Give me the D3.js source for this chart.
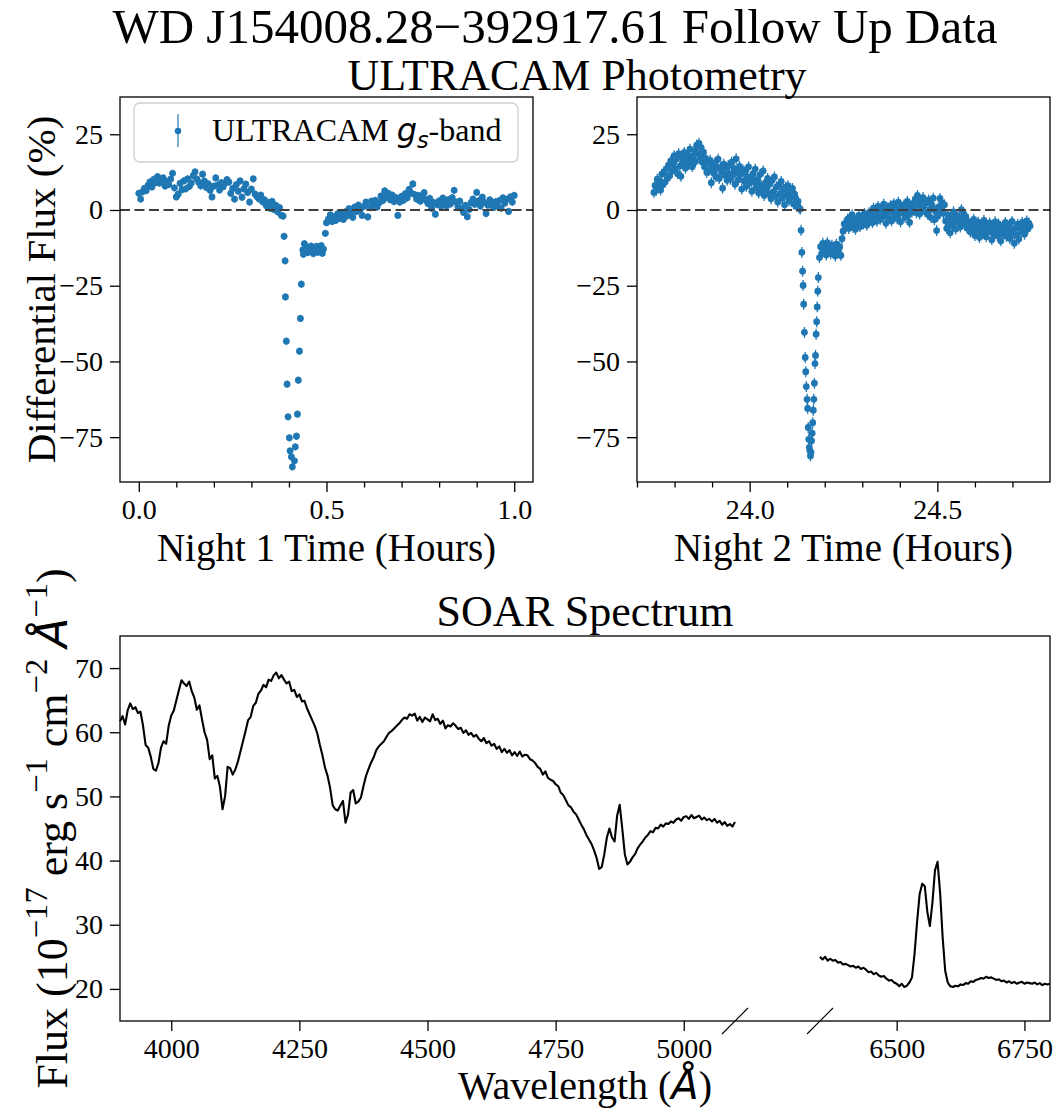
<!DOCTYPE html>
<html>
<head>
<meta charset="utf-8">
<script src="https://cdn.jsdelivr.net/npm/d3@7"></script>
<style>
  body { margin: 0; background: #fff; }
</style>
</head>
<body>
<div id="fig"></div>
<script>
// ULTRACAM g_s light curve, night 1: [time (h), differential flux (%)]
const night1 = [
  [0.000,5.5],[0.005,3.6],[0.010,6.0],[0.015,7.1],[0.020,6.4],[0.025,8.2],[0.030,9.3],[0.035,7.6],[0.040,10.1],[0.045,9.0],
  [0.050,11.0],[0.055,8.9],[0.060,9.8],[0.065,10.6],[0.070,7.9],[0.075,9.4],[0.080,8.4],[0.085,10.2],[0.090,12.1],[0.095,7.3],
  [0.100,4.3],[0.105,5.2],[0.110,8.8],[0.115,6.7],[0.120,9.6],[0.125,7.0],[0.130,10.3],[0.135,7.8],[0.140,8.9],[0.145,11.3],
  [0.150,12.6],[0.155,10.2],[0.160,9.1],[0.165,8.0],[0.170,11.8],[0.175,9.5],[0.180,7.4],[0.185,8.6],[0.190,6.5],[0.195,4.3],
  [0.200,7.9],[0.205,10.6],[0.210,8.2],[0.215,6.6],[0.220,9.0],[0.225,7.7],[0.230,8.9],[0.235,10.0],[0.240,9.2],[0.245,5.5],
  [0.250,7.1],[0.255,3.6],[0.260,8.4],[0.265,6.2],[0.270,9.6],[0.275,4.2],[0.280,7.0],[0.285,8.5],[0.290,5.8],[0.295,2.6],
  [0.300,6.9],[0.305,10.3],[0.310,5.2],[0.315,4.4],[0.320,3.7],[0.325,4.9],[0.330,2.7],[0.335,3.3],[0.340,1.4],[0.345,2.4],
  [0.350,0.6],[0.355,2.8],[0.360,0.2],[0.365,1.5],[0.370,-0.6],[0.375,0.8],[0.380,-1.8],
  [0.3845,-2.0],[0.3870,-8.7],[0.3897,-16.8],[0.3906,-28.7],[0.3930,-43.3],[0.3950,-57.5],[0.3977,-68.3],[0.4010,-75.2],
  [0.4030,-79.5],[0.4065,-81.5],[0.4090,-84.8],[0.4146,-82.8],[0.4170,-78.2],[0.4200,-74.7],[0.4226,-67.4],[0.4250,-56.2],
  [0.4280,-46.6],[0.4305,-35.8],[0.4330,-24.5],[0.4370,-13.2],[0.4385,-14.6],[0.4410,-11.1],
  [0.444,-13.5],[0.447,-12.2],[0.450,-14.1],[0.453,-12.8],[0.456,-13.7],[0.459,-11.9],[0.462,-13.2],[0.465,-14.4],
  [0.468,-12.5],[0.471,-13.0],[0.474,-12.0],[0.477,-14.0],[0.480,-12.7],[0.483,-13.6],[0.486,-11.8],[0.489,-14.3],
  [0.492,-12.9],[0.497,-7.7],[0.500,-4.2],
  [0.505,-3.0],[0.510,-1.6],[0.515,-3.8],[0.520,-2.2],[0.525,-3.4],[0.530,-1.2],[0.535,-2.7],[0.540,-1.0],[0.545,-3.1],[0.550,-0.6],
  [0.555,-1.9],[0.560,0.4],[0.565,-1.1],[0.570,-2.4],[0.575,0.9],[0.580,-0.5],[0.585,1.6],[0.590,0.2],[0.595,-1.8],[0.600,1.2],
  [0.605,2.6],[0.610,-2.3],[0.615,0.8],[0.620,2.9],[0.625,1.5],[0.630,3.2],[0.635,1.0],[0.640,2.4],[0.645,4.6],[0.650,3.1],
  [0.655,6.3],[0.660,4.2],[0.665,5.5],[0.670,3.4],[0.675,4.9],[0.680,2.8],[0.685,4.1],[0.690,-1.8],[0.695,2.6],[0.700,4.5],
  [0.705,3.2],[0.710,5.4],[0.715,4.0],[0.720,6.8],[0.725,5.6],[0.730,8.6],[0.735,5.1],[0.740,3.6],[0.745,4.8],[0.750,2.9],
  [0.755,4.4],[0.760,5.7],[0.765,3.3],[0.770,2.1],[0.775,3.8],[0.780,0.6],[0.785,2.5],[0.790,-1.4],[0.795,1.8],[0.800,3.0],
  [0.805,1.2],[0.810,3.9],[0.815,2.2],[0.820,1.4],[0.825,3.4],[0.830,2.0],[0.835,4.1],[0.840,6.5],[0.845,2.6],[0.850,1.1],
  [0.855,2.9],[0.860,0.4],[0.865,-0.8],[0.870,1.5],[0.875,-2.2],[0.880,0.2],[0.885,2.4],[0.890,3.6],[0.895,1.9],[0.900,5.8],
  [0.905,3.0],[0.910,1.3],[0.915,4.2],[0.920,2.5],[0.925,-1.2],[0.930,1.6],[0.935,3.3],[0.940,2.0],[0.945,0.8],[0.950,2.7],
  [0.955,1.4],[0.960,3.1],[0.965,0.6],[0.970,4.0],[0.975,2.3],[0.980,3.5],[0.985,-0.5],[0.990,4.3],[0.995,2.6],[1.000,4.8]
];

// night 2: [time (h), differential flux (%)]
const night2 = [
  [23.745,5.8],[23.748,8.1],[23.751,6.4],[23.754,10.2],[23.757,7.3],[23.760,9.5],[23.763,6.6],[23.766,11.8],[23.769,8.4],[23.772,12.6],
  [23.775,9.2],[23.778,13.5],[23.781,10.6],[23.784,14.8],[23.787,11.3],[23.790,16.2],[23.793,12.9],[23.796,15.4],[23.799,17.9],[23.802,13.6],
  [23.805,16.8],[23.808,12.0],[23.811,18.6],[23.814,14.5],[23.817,11.1],[23.820,17.3],[23.823,15.6],[23.826,19.0],[23.829,13.8],[23.832,16.4],
  [23.835,18.2],[23.838,15.1],[23.841,20.1],[23.844,16.9],[23.847,14.3],[23.850,17.8],[23.853,19.6],[23.856,16.0],[23.859,21.4],[23.862,18.7],
  [23.865,22.0],[23.868,17.5],[23.871,20.6],[23.874,15.8],[23.877,19.1],[23.880,14.2],[23.883,17.0],[23.886,12.4],[23.889,15.9],[23.892,13.1],
  [23.895,16.4],[23.898,9.0],[23.901,14.7],[23.904,12.2],[23.907,15.5],[23.910,11.0],[23.913,13.8],[23.916,16.8],[23.919,10.4],[23.922,14.1],
  [23.925,12.6],[23.928,7.2],[23.931,15.1],[23.934,11.5],[23.937,13.9],[23.940,9.8],[23.943,14.6],[23.946,12.0],[23.949,10.2],[23.952,15.8],
  [23.955,11.4],[23.958,13.7],[23.961,8.5],[23.964,16.9],[23.967,12.3],[23.970,10.0],[23.973,14.4],[23.976,11.8],[23.979,6.9],[23.982,13.2],
  [23.985,9.6],[23.988,12.8],[23.991,7.8],[23.994,11.0],[23.997,14.2],[24.000,8.9],[24.003,10.7],[24.006,6.2],[24.009,12.0],[24.012,9.3],
  [24.015,13.5],[24.018,7.4],[24.021,10.1],[24.024,5.6],[24.027,11.6],[24.030,8.3],[24.033,6.7],[24.036,12.9],[24.039,4.8],[24.042,9.0],
  [24.045,7.1],[24.048,10.4],[24.051,5.3],[24.054,8.6],[24.057,3.7],[24.060,9.8],[24.063,6.0],[24.066,10.9],[24.069,4.5],[24.072,7.7],
  [24.075,2.6],[24.078,8.2],[24.081,5.4],[24.084,9.4],[24.087,3.9],[24.090,6.8],[24.093,1.7],[24.096,7.5],[24.099,4.9],[24.102,8.0],
  [24.105,3.1],[24.108,6.3],[24.111,4.4],[24.114,7.1],[24.117,2.0],[24.120,5.2],[24.123,3.6],[24.126,1.1],[24.129,2.8],[24.132,0.6],
  [24.135,0.3],
  [24.137,-6.7],[24.139,-14.0],[24.141,-20.2],[24.1425,-24.9],[24.144,-31.1],[24.146,-40.4],[24.148,-48.7],[24.1495,-53.4],
  [24.151,-58.3],[24.153,-62.5],[24.1545,-65.5],[24.156,-71.8],[24.1575,-75.7],[24.159,-78.4],[24.1605,-79.5],[24.162,-81.2],
  [24.1635,-80.0],[24.165,-76.2],[24.1665,-73.7],[24.168,-70.2],[24.1695,-66.1],[24.171,-62.5],[24.1725,-57.2],[24.174,-50.7],
  [24.1755,-48.0],[24.177,-41.0],[24.1785,-36.9],[24.180,-32.0],[24.1815,-26.8],[24.183,-22.3],
  [24.186,-15.7],[24.189,-12.1],[24.192,-14.3],[24.195,-11.0],[24.198,-13.6],[24.201,-12.4],[24.204,-14.9],[24.207,-10.8],[24.210,-13.1],[24.213,-12.0],
  [24.216,-14.5],[24.219,-11.6],[24.222,-13.8],[24.225,-12.7],[24.228,-15.2],[24.231,-11.3],[24.234,-13.4],[24.237,-14.1],[24.240,-12.2],[24.243,-15.0],
  [24.246,-9.5],[24.249,-7.0],[24.252,-4.6],[24.255,-6.0],
  [24.258,-5.2],[24.261,-3.0],[24.264,-6.1],[24.267,-2.4],[24.270,-4.8],[24.273,-1.6],[24.276,-5.7],[24.279,-3.5],[24.282,-6.4],[24.285,-2.9],
  [24.288,-4.3],[24.291,-1.8],[24.294,-5.5],[24.297,-3.2],[24.300,-2.0],[24.303,-4.6],[24.306,-1.2],[24.309,-3.8],[24.312,-5.0],[24.315,-2.6],
  [24.318,-0.9],[24.321,-3.4],[24.324,-1.6],[24.327,-4.2],[24.330,0.6],[24.333,-2.8],[24.336,-0.4],[24.339,-3.7],[24.342,1.2],[24.345,-1.9],
  [24.348,-3.1],[24.351,0.2],[24.354,-2.2],[24.357,1.9],[24.360,-1.0],[24.363,-4.4],[24.366,0.8],[24.369,-2.5],[24.372,-0.2],[24.375,1.4],
  [24.378,-3.6],[24.381,-0.7],[24.384,2.1],[24.387,-1.8],[24.390,0.4],[24.393,-2.9],[24.396,2.6],[24.399,-1.1],[24.402,-3.9],[24.405,0.9],
  [24.408,-0.5],[24.411,1.7],[24.414,-2.4],[24.417,0.1],[24.420,2.8],[24.423,-1.5],[24.426,-4.1],[24.429,1.0],[24.432,-0.8],[24.435,2.2],
  [24.438,0.3],[24.441,3.6],[24.444,-0.9],[24.447,4.8],[24.450,1.6],[24.453,-1.3],[24.456,2.9],[24.459,0.7],[24.462,4.1],[24.465,1.9],
  [24.468,-0.6],[24.471,2.4],[24.474,-1.4],[24.477,3.3],[24.480,0.2],[24.483,-2.5],[24.486,1.5],[24.489,3.9],[24.492,-3.2],[24.495,-0.4],
  [24.498,-6.8],[24.501,-2.1],[24.504,1.0],[24.507,3.8],[24.510,-0.3],[24.513,2.3],[24.516,-1.1],[24.519,1.7],[24.522,-3.6],[24.525,-6.1],
  [24.528,-1.6],[24.531,-4.4],[24.534,-7.5],[24.537,-2.8],[24.540,-5.2],[24.543,-0.6],[24.546,-3.7],[24.549,-6.3],[24.552,-1.9],[24.555,-4.0],
  [24.558,-2.5],[24.561,-5.6],[24.564,0.1],[24.567,-3.3],[24.570,-1.4],[24.573,-4.7],[24.576,-2.2],[24.579,-6.0],[24.582,-3.8],[24.585,-5.1],
  [24.588,-7.3],[24.591,-4.2],[24.594,-6.6],[24.597,-3.1],[24.600,-8.4],[24.603,-5.5],[24.606,-7.0],[24.609,-4.0],[24.612,-9.1],[24.615,-6.2],
  [24.618,-4.8],[24.621,-7.6],[24.624,-3.4],[24.627,-6.0],[24.630,-8.8],[24.633,-5.2],[24.636,-7.1],[24.639,-4.3],[24.642,-6.7],[24.645,-9.8],
  [24.648,-5.6],[24.651,-7.9],[24.654,-3.9],[24.657,-6.5],[24.660,-8.5],[24.663,-4.6],[24.666,-7.3],[24.669,-10.2],[24.672,-5.9],[24.675,-8.0],
  [24.678,-6.3],[24.681,-4.1],[24.684,-8.7],[24.687,-7.0],[24.690,-5.3],[24.693,-9.4],[24.696,-6.6],[24.699,-3.8],[24.702,-7.7],[24.705,-11.0],
  [24.708,-6.0],[24.711,-8.3],[24.714,-4.7],[24.717,-9.6],[24.720,-5.4],[24.723,-7.2],[24.726,-4.1],[24.729,-6.8],[24.732,-8.0],[24.735,-5.0],
  [24.738,-3.6],[24.741,-6.2],[24.744,-4.4],[24.747,-5.3]
];

const night1Err = 1.2;
const night2Err = 1.8;

const n1Major = [0.0, 0.5, 1.0];
const n1Minor = [0.1, 0.2, 0.3, 0.4, 0.6, 0.7, 0.8, 0.9];
const n2Major = [24.0, 24.5];
const n2Minor = [23.7, 23.8, 23.9, 24.1, 24.2, 24.3, 24.4, 24.6, 24.7];
const fluxTicks = [-75, -50, -25, 0, 25];

// SOAR spectrum: [wavelength (A), flux (1e-17 erg/s/cm2/A)]
const specBlue = [
  [3900,61.7],[3905,62.5],[3910,61.2],[3915,63.4],[3920,64.5],[3925,63.6],[3930,63.9],[3935,63.0],[3940,63.2],[3945,61.0],
  [3950,58.0],[3955,57.6],[3960,56.2],[3965,54.3],[3970,54.0],[3975,55.2],[3980,57.6],[3985,58.6],[3990,58.2],[3995,61.0],
  [4000,62.6],[4005,63.4],[4010,65.0],[4015,66.6],[4020,68.1],[4025,67.6],[4030,67.2],[4035,67.9],[4040,66.4],[4045,65.4],
  [4050,63.5],[4055,64.2],[4060,62.0],[4065,60.0],[4070,58.8],[4075,55.8],[4080,56.4],[4085,52.8],[4090,53.2],[4095,51.5],
  [4100,48.0],[4105,50.0],[4110,54.6],[4115,54.4],[4120,53.4],[4125,54.2],[4130,55.4],[4135,57.0],[4140,58.6],[4145,60.2],
  [4150,61.9],[4155,62.4],[4160,64.1],[4165,64.6],[4170,66.0],[4175,66.5],[4180,67.4],[4185,67.0],[4190,68.2],[4195,68.0],
  [4200,68.9],[4205,69.3],[4210,68.4],[4215,68.9],[4220,68.2],[4225,67.6],[4230,67.9],[4235,66.4],[4240,66.6],[4245,65.5],
  [4250,65.9],[4255,64.8],[4260,64.9],[4265,63.7],[4270,62.8],[4275,61.9],[4280,61.0],[4285,59.8],[4290,58.0],[4295,56.4],
  [4300,54.5],[4305,53.2],[4310,51.3],[4315,48.6],[4320,48.0],[4325,47.8],[4330,48.6],[4335,49.3],[4340,45.9],[4345,47.2],
  [4350,50.6],[4355,51.0],[4360,48.9],[4365,49.2],[4370,49.8],[4375,51.6],[4380,53.2],[4385,54.3],[4390,55.3],[4395,56.1],
  [4400,57.2],[4405,57.8],[4410,58.2],[4415,58.6],[4420,59.3],[4425,59.9],[4430,60.2],[4435,60.6],[4440,61.0],[4445,61.4],
  [4450,61.9],[4455,62.3],[4460,62.1],[4465,62.8],[4470,62.6],[4475,62.9],[4480,61.8],[4485,62.4],[4490,61.6],[4495,62.3],
  [4500,62.0],[4505,61.7],[4510,62.8],[4515,61.9],[4520,62.1],[4525,61.3],[4530,61.8],[4535,60.6],[4540,61.1],[4545,60.9],
  [4550,61.4],[4555,61.0],[4560,60.5],[4565,60.7],[4570,59.9],[4575,60.3],[4580,59.6],[4585,59.9],[4590,59.3],[4595,59.6],
  [4600,59.0],[4605,58.6],[4610,59.1],[4615,58.3],[4620,58.6],[4625,57.9],[4630,58.2],[4635,57.4],[4640,57.8],[4645,56.9],
  [4650,57.4],[4655,56.8],[4660,57.2],[4665,56.4],[4670,56.9],[4675,56.3],[4680,57.0],[4685,56.2],[4690,56.5],[4695,56.4],
  [4700,55.8],[4705,55.6],[4710,55.2],[4715,54.6],[4720,54.3],[4725,53.4],[4730,53.9],[4735,52.9],[4740,52.6],[4745,52.4],
  [4750,51.9],[4755,51.6],[4760,50.6],[4765,50.2],[4770,49.4],[4775,48.6],[4780,48.3],[4785,47.6],[4790,47.2],[4795,46.4],
  [4800,45.6],[4805,44.9],[4810,44.0],[4815,43.3],[4820,42.6],[4825,41.6],[4830,40.4],[4835,38.7],[4840,39.0],[4845,41.0],
  [4850,43.6],[4855,45.0],[4860,43.6],[4865,43.0],[4870,47.0],[4875,48.7],[4880,45.0],[4885,41.0],[4890,39.4],[4895,39.8],
  [4900,40.5],[4905,41.0],[4910,41.9],[4915,42.5],[4920,43.0],[4925,43.6],[4930,44.0],[4935,44.6],[4940,44.4],[4945,45.1],
  [4950,45.0],[4955,45.6],[4960,45.3],[4965,45.8],[4970,45.7],[4975,46.1],[4980,45.9],[4985,46.4],[4990,46.6],[4995,46.2],
  [5000,46.8],[5005,46.9],[5010,46.5],[5015,47.1],[5020,46.6],[5025,46.8],[5030,47.0],[5035,46.4],[5040,46.7],[5045,46.3],
  [5050,46.5],[5055,46.1],[5060,46.5],[5065,45.9],[5070,46.2],[5075,45.6],[5080,46.0],[5085,45.4],[5090,45.7],[5095,45.3],
  [5100,46.0]
];
const specRed = [
  [6350,25.0],[6355,24.6],[6360,25.0],[6365,24.4],[6370,24.7],[6375,24.4],[6380,24.5],[6385,24.1],[6390,24.2],[6395,23.8],
  [6400,23.9],[6405,23.7],[6410,23.5],[6415,23.6],[6420,23.3],[6425,23.5],[6430,23.1],[6435,23.3],[6440,23.0],[6445,22.6],
  [6450,22.7],[6455,22.3],[6460,22.5],[6465,22.1],[6470,21.9],[6475,22.0],[6480,21.6],[6485,21.3],[6490,21.4],[6495,21.0],
  [6500,20.8],[6505,20.4],[6510,20.8],[6515,20.3],[6520,20.5],[6525,21.0],[6530,21.8],[6535,25.5],[6540,30.5],[6545,34.8],
  [6550,36.4],[6555,36.0],[6560,32.0],[6565,29.8],[6570,33.5],[6575,38.5],[6580,39.8],[6585,35.0],[6590,28.0],[6595,22.8],
  [6600,21.0],[6605,20.4],[6610,20.3],[6615,20.5],[6620,20.4],[6625,20.7],[6630,20.6],[6635,20.9],[6640,20.8],[6645,21.2],
  [6650,21.1],[6655,21.4],[6660,21.5],[6665,21.7],[6670,21.6],[6675,21.9],[6680,21.7],[6685,21.8],[6690,21.6],[6695,21.4],
  [6700,21.5],[6705,21.2],[6710,21.3],[6715,21.0],[6720,21.2],[6725,20.9],[6730,21.1],[6735,20.8],[6740,21.0],[6745,21.1],
  [6750,20.8],[6755,21.0],[6760,20.9],[6765,20.8],[6770,21.0],[6775,20.7],[6780,20.9],[6785,20.6],[6790,20.8],[6795,20.7],
  [6800,20.8]
];
const waveTicks = [4000, 4250, 4500, 4750, 5000, 6500, 6750];
const specTicks = [20, 30, 40, 50, 60, 70];
const waveBreak = [5100, 6350];

const W = 1064, H = 1117;
const serif = '"Liberation Serif", "Times New Roman", Times, serif';
const mathFont = '"DejaVu Sans", sans-serif';
const ptColor = '#1f77b4';

const svg = d3.select('#fig').append('svg')
  .attr('width', W).attr('height', H)
  .style('background', '#fff');

function styleAxis(a) {
  a.select('.domain').remove();
  a.selectAll('.tick line').attr('stroke', '#000').attr('stroke-width', 1.3);
  a.selectAll('.tick text')
    .attr('font-family', serif)
    .attr('font-size', 28)
    .attr('fill', '#000');
}

// text made of pieces, some raised/lowered or in math italic
function richText(sel, parts, size, supScale) {
  supScale = supScale || 0.7;
  const t = sel.append('text')
    .attr('font-family', serif)
    .attr('font-size', size)
    .attr('fill', '#000');
  let shift = 0;
  parts.forEach(p => {
    const span = t.append('tspan').text(p.s);
    let want = 0;
    if (p.sup) want = -size * 0.45;
    if (p.sub) want = size * 0.22;
    if (want !== shift) { span.attr('dy', want - shift); shift = want; }
    if (p.sup || p.sub) span.attr('font-size', size * supScale);
    if (p.math) span.attr('font-family', mathFont).attr('font-style', 'italic');
  });
  return t;
}

function lightCurve(left, data, xDomain, major, minor, err, xlabel) {
  const w = 413, h = 385;
  const g = svg.append('g').attr('transform', `translate(${left},97)`);
  const x = d3.scaleLinear().domain(xDomain).range([0, w]);
  const y = d3.scaleLinear().domain([-89.8, 37.3]).range([h, 0]);

  g.append('g').selectAll('line').data(data).join('line')
    .attr('x1', d => x(d[0])).attr('x2', d => x(d[0]))
    .attr('y1', d => y(d[1] - err)).attr('y2', d => y(d[1] + err))
    .attr('stroke', ptColor).attr('stroke-width', 1.3);
  g.append('g').selectAll('circle').data(data).join('circle')
    .attr('cx', d => x(d[0])).attr('cy', d => y(d[1]))
    .attr('r', 3.4).attr('fill', ptColor);

  g.append('line')
    .attr('x1', 0).attr('x2', w).attr('y1', y(0)).attr('y2', y(0))
    .attr('stroke', '#3f3f3f').attr('stroke-width', 2)
    .attr('stroke-dasharray', '10,4.5');

  const ax = g.append('g').attr('transform', `translate(0,${h})`)
    .call(d3.axisBottom(x).tickValues(major).tickFormat(d3.format('.1f')).tickSize(10).tickPadding(7));
  styleAxis(ax);
  const axm = g.append('g').attr('transform', `translate(0,${h})`)
    .call(d3.axisBottom(x).tickValues(minor).tickFormat('').tickSize(5.5));
  styleAxis(axm);
  const ay = g.append('g')
    .call(d3.axisLeft(y).tickValues(fluxTicks).tickSize(10).tickPadding(7));
  styleAxis(ay);

  g.append('rect').attr('width', w).attr('height', h)
    .attr('fill', 'none').attr('stroke', '#000').attr('stroke-width', 1.3);

  g.append('text')
    .attr('x', w / 2).attr('y', h + 79)
    .attr('text-anchor', 'middle')
    .attr('font-family', serif).attr('font-size', 39)
    .text(xlabel);
  return g;
}

const p1 = lightCurve(120, night1, [-0.05, 1.05], n1Major, n1Minor, night1Err, 'Night 1 Time (Hours)');
lightCurve(637, night2, [23.7, 24.8], n2Major, n2Minor, night2Err, 'Night 2 Time (Hours)');

// legend
const lg = p1.append('g').attr('transform', 'translate(14,6)');
lg.append('rect').attr('width', 384).attr('height', 59).attr('rx', 6)
  .attr('fill', '#fff').attr('fill-opacity', 0.8)
  .attr('stroke', '#d0d0d0').attr('stroke-width', 1.3);
lg.append('line').attr('x1', 44).attr('x2', 44).attr('y1', 11).attr('y2', 44)
  .attr('stroke', ptColor).attr('stroke-width', 1.2);
lg.append('circle').attr('cx', 44).attr('cy', 28).attr('r', 3.2).attr('fill', ptColor);
richText(lg, [
  { s: 'ULTRACAM ' },
  { s: 'g', math: true },
  { s: 's', math: true, sub: true },
  { s: '-band' }
], 32).attr('x', 78).attr('y', 38);

svg.append('text')
  .attr('transform', 'translate(55,289.5) rotate(-90)')
  .attr('text-anchor', 'middle')
  .attr('font-family', serif).attr('font-size', 41)
  .text('Differential Flux (%)');

// spectrum
const sw = 930, sh = 385;
const sp = svg.append('g').attr('transform', 'translate(120,636)');
const sx = d3.scaleLinear().domain([3900, waveBreak[0], waveBreak[1], 6800]).range([0, 615, 700, sw]);
const sy = d3.scaleLinear().domain([15, 75]).range([sh, 0]);
const line = d3.line().x(d => sx(d[0])).y(d => sy(d[1]));
[specBlue, specRed].forEach(s => {
  sp.append('path').attr('d', line(s))
    .attr('fill', 'none').attr('stroke', '#000')
    .attr('stroke-width', 2.1).attr('stroke-linejoin', 'round');
});

const sxa = sp.append('g').attr('transform', `translate(0,${sh})`)
  .call(d3.axisBottom(sx).tickValues(waveTicks).tickFormat(d3.format('d')).tickSize(10).tickPadding(7));
styleAxis(sxa);
const sya = sp.append('g')
  .call(d3.axisLeft(sy).tickValues(specTicks).tickSize(10).tickPadding(7));
styleAxis(sya);
sp.append('rect').attr('width', sw).attr('height', sh)
  .attr('fill', 'none').attr('stroke', '#000').attr('stroke-width', 1.3);

// break marks on the wavelength axis
sp.append('g').selectAll('line').data(waveBreak).join('line')
  .attr('x1', d => sx(d) - 13).attr('x2', d => sx(d) + 13)
  .attr('y1', sh + 13).attr('y2', sh - 13)
  .attr('stroke', '#000').attr('stroke-width', 1.1);

richText(svg, [
  { s: 'Wavelength (' },
  { s: 'Å', math: true },
  { s: ')' }
], 40).attr('x', 585).attr('y', 1099).attr('text-anchor', 'middle');

richText(svg, [
  { s: 'Flux (10' },
  { s: '−17', sup: true },
  { s: ' erg s' },
  { s: '−1', sup: true },
  { s: ' cm' },
  { s: '−2', sup: true },
  { s: ' ' },
  { s: 'Å', math: true },
  { s: '−1', sup: true },
  { s: ')' }
], 44, 0.74).attr('transform', 'translate(67,828.5) rotate(-90)').attr('text-anchor', 'middle');

// titles
svg.append('text').attr('x', 555).attr('y', 43)
  .attr('text-anchor', 'middle').attr('font-family', serif).attr('font-size', 49)
  .text('WD J154008.28−392917.61 Follow Up Data');
svg.append('text').attr('x', 577).attr('y', 90)
  .attr('text-anchor', 'middle').attr('font-family', serif).attr('font-size', 44)
  .text('ULTRACAM Photometry');
svg.append('text').attr('x', 585).attr('y', 626)
  .attr('text-anchor', 'middle').attr('font-family', serif).attr('font-size', 44)
  .text('SOAR Spectrum');
</script>
</body>
</html>
